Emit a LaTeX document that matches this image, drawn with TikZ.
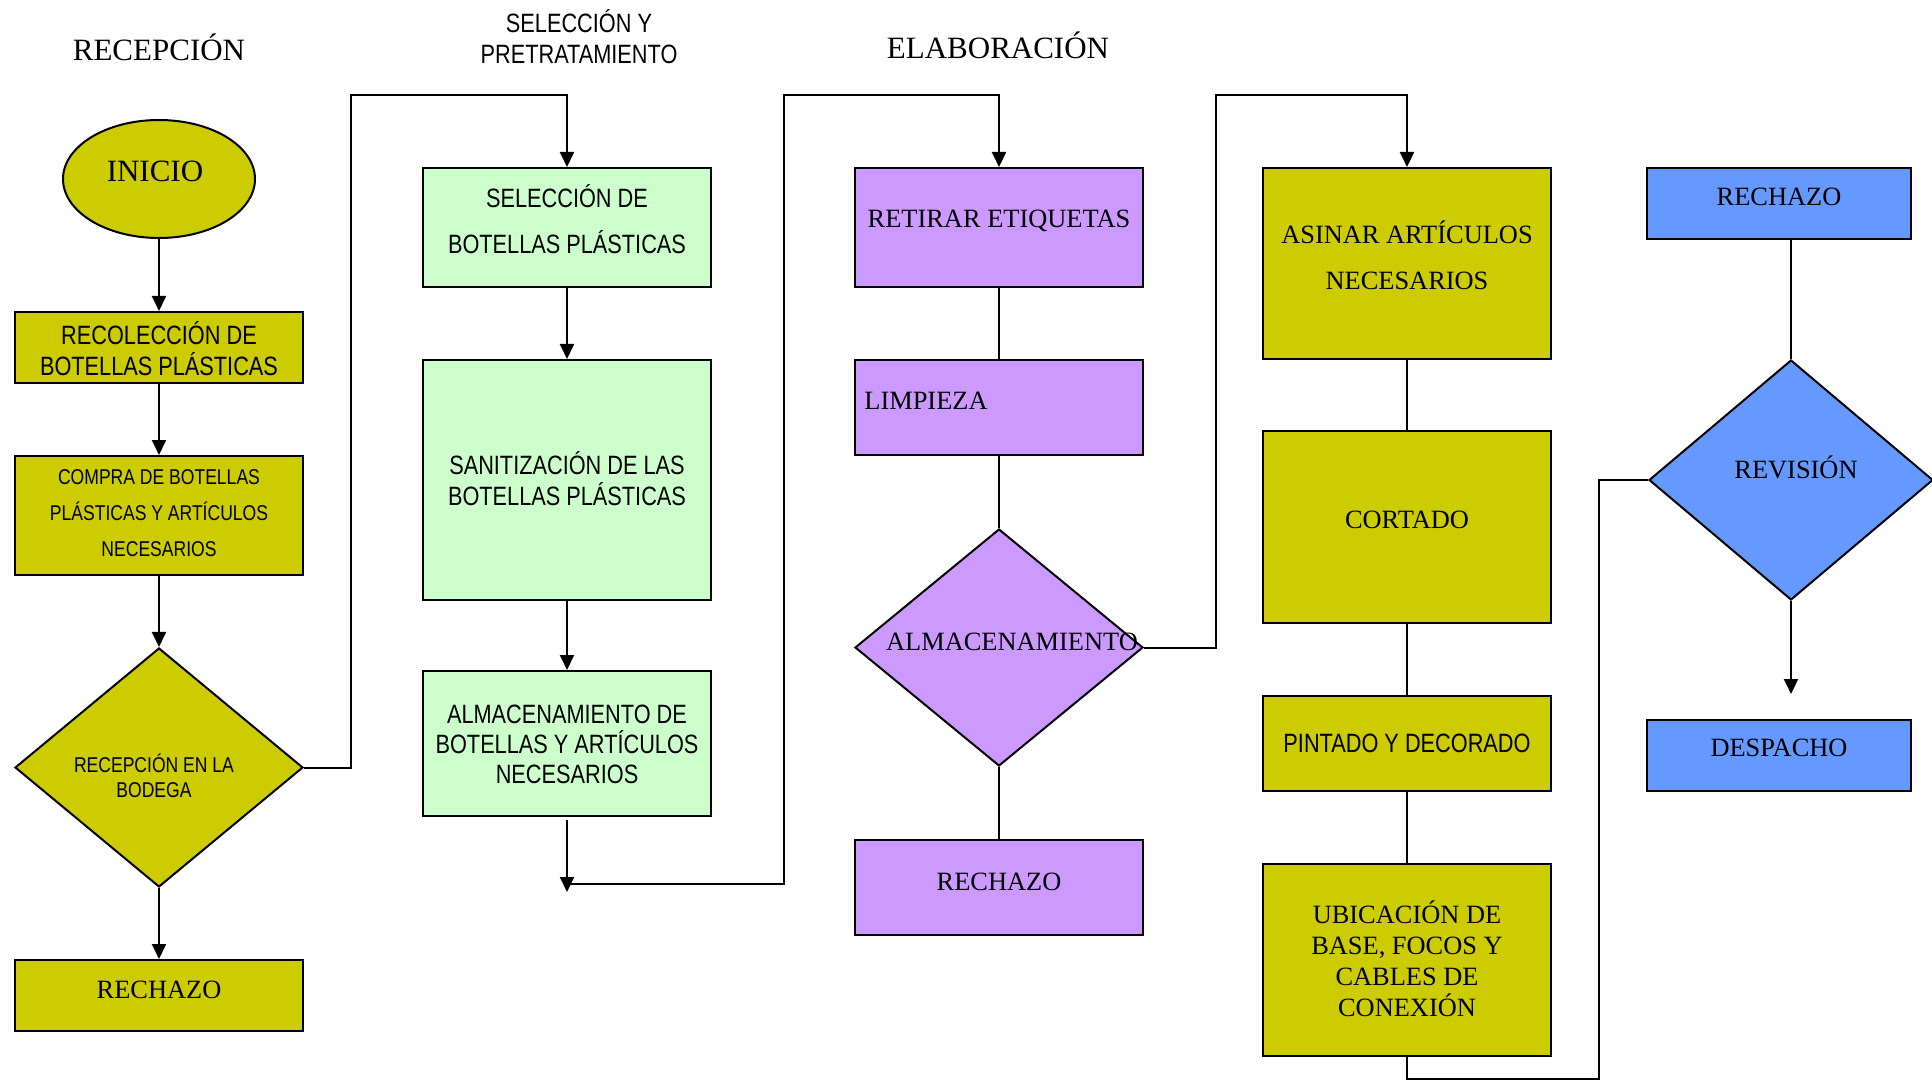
\documentclass[tikz,border=0pt]{standalone}
\usepackage{fontspec}
\setmainfont{Liberation Serif}
\newfontfamily\narrowsans[FakeStretch=0.82]{Liberation Sans}
\usetikzlibrary{shapes.geometric, arrows.meta}

\definecolor{olivebox}{HTML}{CCCC00}
\definecolor{greenbox}{HTML}{CCFFCC}
\definecolor{lilacbox}{HTML}{CC99FF}
\definecolor{bluebox}{HTML}{6699FF}

\begin{document}
\begin{tikzpicture}[x=0.5pt, y=-0.5pt,
  stage/.style={draw=black, line width=1pt, rectangle, inner sep=0pt, minimum width=144pt},
  decision/.style={draw=black, line width=1pt, diamond, inner sep=0pt},
  link/.style={line width=1pt},
  flow/.style={link, -{Triangle[width=7pt,length=7.5pt]}},
  heading/.style={font=\fontsize{15.5}{18}\selectfont, inner sep=0pt, align=center},
  serif/.style={font=\fontsize{13.2}{15.5}\selectfont, inner sep=0pt, align=center},
  serifwide/.style={font=\fontsize{13.2}{23}\selectfont, inner sep=0pt, align=center},
  narrow/.style={font=\narrowsans\fontsize{13.25}{15.5}\selectfont, inner sep=0pt, align=center},
  narrowwide/.style={font=\narrowsans\fontsize{13.25}{23}\selectfont, inner sep=0pt, align=center},
  narrowsmall/.style={font=\narrowsans\fontsize{10.7}{18}\selectfont, inner sep=0pt, align=center},
  narrowtight/.style={font=\narrowsans\fontsize{10.7}{12.5}\selectfont, inner sep=0pt, align=center},
]
\useasboundingbox (0,0) rectangle (1932,1080);
\fill[white] (0,0) rectangle (1932,1080);

% ---------- headings ----------
\node[heading] (hrecep) at (159,47) {RECEPCIÓN};
\node[narrow] (hselec) at (579,36.5) {SELECCIÓN Y\\PRETRATAMIENTO};
\node[heading] (helab) at (998,45.5) {ELABORACIÓN};

% ---------- recepción ----------
\node[ellipse, draw=black, line width=1pt, fill=olivebox, inner sep=0pt,
      minimum width=96pt, minimum height=59pt] (inicio) at (159,179) {};
\node[heading] (tinicio) at (155,171) {INICIO};
\node[stage, fill=olivebox, minimum height=35.5pt] (recol) at (159,347.5) {};
\node[narrow] (trecol) at (159,349) {RECOLECCIÓN DE\\BOTELLAS PLÁSTICAS};
\node[stage, fill=olivebox, minimum height=59.5pt] (compra) at (159,515.5) {};
\node[narrowsmall] (tcompra) at (159,513) {COMPRA DE BOTELLAS\\PLÁSTICAS Y ARTÍCULOS\\NECESARIOS};
\node[decision, fill=olivebox, minimum width=144pt, minimum height=119.5pt] (bodega) at (159,767.5) {};
\node[narrowtight] (tbodega) at (154,776) {RECEPCIÓN EN LA\\BODEGA};
\node[stage, fill=olivebox, minimum height=35.5pt] (rechA) at (159,995.5) {};
\node[serif] (trechA) at (159,990) {RECHAZO};

% ---------- selección y pretratamiento ----------
\node[stage, fill=greenbox, minimum height=59.5pt] (selec) at (567,227.5) {};
\node[narrowwide] (tselec) at (567,219) {SELECCIÓN DE\\BOTELLAS PLÁSTICAS};
\node[stage, fill=greenbox, minimum height=120pt] (sanit) at (567,480) {};
\node[narrow] (tsanit) at (567,479) {SANITIZACIÓN DE LAS\\BOTELLAS PLÁSTICAS};
\node[stage, fill=greenbox, minimum height=72.5pt] (almbot) at (567,743.5) {};
\node[narrow, font=\narrowsans\fontsize{13.25}{15}\selectfont] (talmbot) at (567,744) {ALMACENAMIENTO DE\\BOTELLAS Y ARTÍCULOS\\NECESARIOS};

% ---------- elaboración (1) ----------
\node[stage, fill=lilacbox, minimum height=59.5pt] (retirar) at (999,227.5) {};
\node[serif] (tretirar) at (999,221) {RETIRAR ETIQUETAS};
\node[stage, fill=lilacbox, minimum height=47.5pt] (limp) at (999,407.5) {};
\node[serif, anchor=west] (tlimp) at (864,401) {LIMPIEZA};
\node[decision, fill=lilacbox, minimum width=144pt, minimum height=118.5pt] (almac) at (999,647.5) {};
\node[serif] (talmac) at (1012,642) {ALMACENAMIENTO};
\node[stage, fill=lilacbox, minimum height=47.5pt] (rechB) at (999,887.5) {};
\node[serif] (trechB) at (999,882) {RECHAZO};

% ---------- elaboración (2) ----------
\node[stage, fill=olivebox, minimum height=95.5pt] (asinar) at (1407,263.5) {};
\node[serifwide] (tasinar) at (1407,255) {ASINAR ARTÍCULOS\\NECESARIOS};
\node[stage, fill=olivebox, minimum height=96pt] (cortado) at (1407,527) {};
\node[serif] (tcortado) at (1407,520) {CORTADO};
\node[stage, fill=olivebox, minimum height=47.5pt] (pintado) at (1407,743.5) {};
\node[narrow] (tpintado) at (1407,743) {PINTADO Y DECORADO};
\node[stage, fill=olivebox, minimum height=96pt] (ubic) at (1407,960) {};
\node[serif] (tubic) at (1407,959) {UBICACIÓN DE\\BASE, FOCOS Y\\CABLES DE\\CONEXIÓN};

% ---------- revisión y despacho ----------
\node[stage, fill=bluebox, minimum width=132pt, minimum height=35.5pt] (rechC) at (1779,203.5) {};
\node[serif] (trechC) at (1779,197) {RECHAZO};
\node[decision, fill=bluebox, minimum width=142pt, minimum height=120pt] (revision) at (1791,480) {};
\node[serif] (trevision) at (1796,467) {REVISIÓN};
\node[stage, fill=bluebox, minimum width=132pt, minimum height=35.5pt] (desp) at (1779,755.5) {};
\node[serif] (tdesp) at (1779,748) {DESPACHO};

% ---------- connectors ----------
\draw[flow] (inicio) -- (recol);
\draw[flow] (recol) -- (compra);
\draw[flow] (compra) -- (bodega);
\draw[flow] (bodega) -- (rechA);

\coordinate (busA) at (351,95);
\draw[flow] (bodega.east) -| (busA) -| (selec.north);
\draw[flow] (selec) -- (sanit);
\draw[flow] (sanit) -- (almbot);

\coordinate (dropstart) at (567,820);
\coordinate (dropend) at (567,892);
\coordinate (dropjoin) at (567,884);
\coordinate (busB) at (784,95);
\draw[flow] (dropstart) -- (dropend);
\draw[flow] (dropjoin) -| (busB) -| (retirar.north);

\draw[link] (retirar) -- (limp);
\draw[link] (limp) -- (almac);
\draw[link] (almac) -- (rechB);

\coordinate (busC) at (1216,95);
\draw[flow] (almac.east) -| (busC) -| (asinar.north);

\draw[link] (asinar) -- (cortado);
\draw[link] (cortado) -- (pintado);
\draw[link] (pintado) -- (ubic);

\coordinate (busD) at (1599,1079);
\draw[link] (ubic.south) |- (busD) |- (revision.west);
\draw[link] (revision.north |- rechC.south) -- (revision.north);
\coordinate (despin) at (1791,694);
\draw[flow] (revision.south) -- (despin);

\end{tikzpicture}
\end{document}
